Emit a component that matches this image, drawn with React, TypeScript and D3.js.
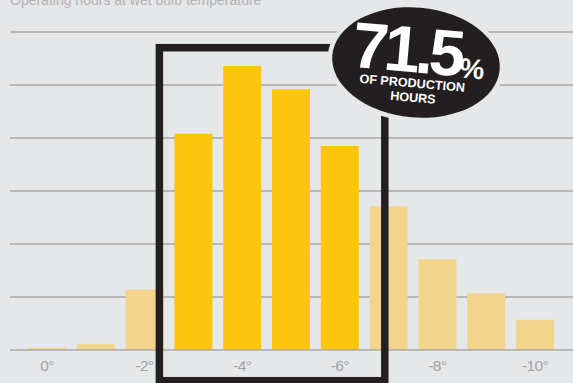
import React from "react";
import * as d3 from "d3";

const categories = ["0°", "-1°", "-2°", "-3°", "-4°", "-5°", "-6°", "-7°", "-8°", "-9°", "-10°"];
const values = [0.04, 0.11, 1.14, 4.08, 5.36, 4.92, 3.85, 2.71, 1.71, 1.07, 0.57];
const highlighted = ["-3°", "-4°", "-5°", "-6°"];
const tickLabels = ["0°", "-2°", "-4°", "-6°", "-8°", "-10°"];
const gridTicks = [1, 2, 3, 4, 5, 6];
const titleText = "Operating hours at wet bulb temperature";
const bigNumber = "71.5";
const percentSign = "%";
const subLine1 = "OF PRODUCTION";
const subLine2 = "HOURS";

const W = 573;
const H = 383;
const BG = "#e6e7e9";
const BRIGHT = "#fdc60d";
const FADED = "#f2d58b";
const DARK = "#231f20";
const FONT = "'Liberation Sans', Arial, Helvetica, sans-serif";

export default function App() {
  const x = d3
    .scaleBand<string>()
    .domain(categories)
    .range([22.6, 559.4])
    .paddingInner(0.221)
    .paddingOuter(0.11);
  const y = d3.scaleLinear().domain([0, 6]).range([350, 32]);

  const first = x(highlighted[0])!;
  const last = x(highlighted[highlighted.length - 1])! + x.bandwidth();
  const frameX = first - 15;
  const frameW = last - first + 41;

  return (
    <svg
      width={W}
      height={H}
      style={{ position: "fixed", left: 0, top: 0, display: "block" }}
      xmlns="http://www.w3.org/2000/svg"
    >
      <rect x={0} y={0} width={W} height={H} fill={BG} />
      <text x={10} y={5} fontFamily={FONT} fontSize={14} fill="#b1b2b5">
        {titleText}
      </text>
      {gridTicks.map((t) => (
        <line key={t} x1={10} x2={W} y1={y(t)} y2={y(t)} stroke="#8a8a8a" strokeWidth={1.1} />
      ))}
      {categories.map((c, i) => (
        <rect
          key={c}
          x={x(c)}
          y={y(values[i])}
          width={x.bandwidth()}
          height={y(0) - y(values[i])}
          fill={highlighted.includes(c) ? BRIGHT : FADED}
        />
      ))}
      <line x1={10} x2={W} y1={y(0)} y2={y(0)} stroke="#a9aaac" strokeWidth={1.5} />
      {tickLabels.map((t) => (
        <text
          key={t}
          x={x(t)! + x.bandwidth() / 2}
          y={370.7}
          textAnchor="middle"
          fontFamily={FONT}
          fontSize={15.5}
          letterSpacing={-0.6}
          fill="#a3a4a6"
        >
          {t}
        </text>
      ))}
      <rect
        x={frameX}
        y={47.7}
        width={frameW}
        height={333}
        fill="none"
        stroke={DARK}
        strokeWidth={7.5}
      />
      <g transform="translate(416,62.5) rotate(5)">
        <ellipse cx={0} cy={0} rx={84} ry={55} fill={DARK} stroke={BG} strokeWidth={9} />
        <ellipse cx={0} cy={0} rx={84} ry={55} fill={DARK} />
        <text
          x={44}
          y={10}
          textAnchor="end"
          fontFamily={FONT}
          fontWeight="bold"
          fontSize={65}
          letterSpacing={-4.5}
          fill="#ffffff"
        >
          {bigNumber}
        </text>
        <text x={44} y={11} fontFamily={FONT} fontWeight="bold" fontSize={28} letterSpacing={-1} fill="#ffffff">
          {percentSign}
        </text>
        <text x={-2} y={25} textAnchor="middle" fontFamily={FONT} fontWeight="bold" fontSize={12.6} fill="#ffffff">
          {subLine1}
        </text>
        <text x={0} y={39.5} textAnchor="middle" fontFamily={FONT} fontWeight="bold" fontSize={12.6} fill="#ffffff">
          {subLine2}
        </text>
      </g>
    </svg>
  );
}
